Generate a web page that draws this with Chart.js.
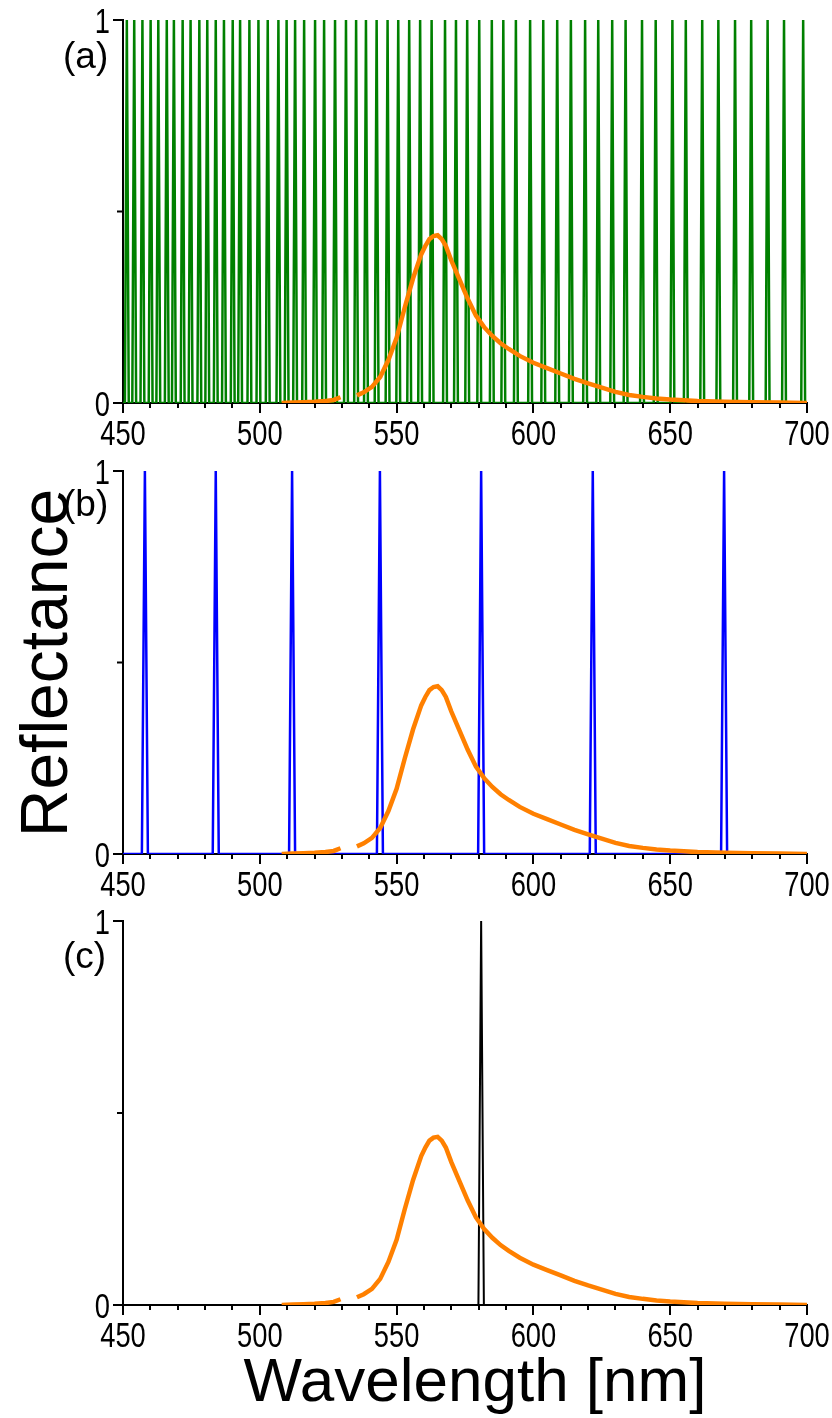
<!DOCTYPE html>
<html>
<head>
<meta charset="utf-8">
<script src="https://cdn.jsdelivr.net/npm/chart.js@4.4.1/dist/chart.umd.min.js"></script>
<style>
  html, body { margin: 0; padding: 0; background: #fff; }
  #wrap { position: relative; width: 832px; height: 1418px; overflow: hidden; }
  #wrap canvas { position: absolute; left: 0; }
  .txt { position: absolute; font-family: "Liberation Sans", Arial, sans-serif; color: #000; line-height: 1; white-space: nowrap; }
  .panel { font-size: 37px; left: 63px; }
</style>
</head>
<body>
<div id="wrap">
  <canvas id="panelA" width="832" height="450" style="top:0"></canvas>
  <canvas id="panelB" width="832" height="450" style="top:450px"></canvas>
  <canvas id="panelC" width="832" height="518" style="top:900px"></canvas>
  <div class="txt panel" style="top:37px">(a)</div>
  <div class="txt panel" style="top:485px">(b)</div>
  <div class="txt panel" style="top:937px">(c)</div>
  <div class="txt" style="left:44px;top:663px;font-size:66px;transform:translate(-50%,-50%) rotate(-90deg)">Reflectance</div>
  <div class="txt" style="left:475px;top:1380px;font-size:62px;transform:translate(-50%,-50%)">Wavelength [nm]</div>
</div>
<script>
// axis ticks
const xTicks = [450, 500, 550, 600, 650, 700];
const xMinorStep = 10;
const yTicks = [0, 1];
const yMinor = [0.5];

// emission spectrum (orange); null = no data between the two pieces
const emissionNm = [508, 512, 516, 520, 524, 527, 529.5, 532,
  535.5, 538, 541, 544, 547, 550, 553, 556, 559, 560.5, 562, 563.5, 565, 566.5, 568, 570,
  573, 576, 579, 582, 585, 588, 591, 595, 600, 605, 610, 615, 620, 625, 630, 635,
  640, 645, 650, 655, 660, 670, 680, 690, 700];
const emissionVal = [0.000, 0.001, 0.002, 0.003, 0.005, 0.008, 0.015, null,
  0.020, 0.028, 0.042, 0.068, 0.112, 0.170, 0.250, 0.325, 0.388, 0.410, 0.428, 0.436, 0.438, 0.428, 0.410, 0.372,
  0.322, 0.272, 0.228, 0.198, 0.175, 0.156, 0.141, 0.123, 0.105, 0.091, 0.077, 0.063, 0.051, 0.040, 0.029, 0.021,
  0.016, 0.012, 0.009, 0.007, 0.005, 0.003, 0.002, 0.001, 0.000];

// reflection peak centres in nm (peaks reach reflectance 1)
const peaksA = [451.4, 454.1, 457.1, 460.1, 462.9, 466.0, 468.6, 471.8, 474.7, 477.9,
  480.8, 483.9, 486.9, 490.1, 492.8, 496.2, 499.5, 502.9, 506.8, 509.8,
  512.9, 516.2, 520.2, 523.5, 527.5, 531.5, 535.2, 538.8, 542.7, 546.7,
  550.6, 554.6, 558.6, 562.8, 567.7, 571.7, 575.8, 580.2, 584.8, 589.0,
  593.6, 598.8, 603.6, 608.7, 613.7, 618.9, 623.7, 628.8, 633.7, 639.7,
  644.7, 650.8, 655.7, 661.7, 667.6, 673.7, 679.6, 685.6, 691.6, 698.6];
const peaksB = [458.0, 483.9, 511.8, 543.9, 580.9, 621.7, 669.7];
const peaksC = [580.9];
const peakTop = 1;

const TICK_FONT = "35px 'Liberation Sans', Arial, sans-serif";
const SQUEEZE = 0.78;   // tick numbers are set narrow

function emissionPoints() {
  return emissionNm.map((x, i) => ({ x: x, y: emissionVal[i] }));
}

function peakPoints(centres, half) {
  const pts = [{ x: xTicks[0], y: 0 }];
  centres.forEach(c => {
    pts.push({ x: c - half, y: 0 }, { x: c, y: peakTop }, { x: c + half, y: 0 });
  });
  pts.push({ x: xTicks[xTicks.length - 1], y: 0 });
  return pts;
}

function narrowText(ctx, text, x, y, align) {
  ctx.save();
  ctx.translate(x, y);
  ctx.scale(SQUEEZE, 1);
  ctx.textAlign = align;
  ctx.textBaseline = 'alphabetic';
  ctx.fillText(text, 0, 0);
  ctx.restore();
}

// outward tick marks (long at labelled values) and the tick numbers
const axisDecor = {
  id: 'axisDecor',
  afterDraw(chart, args, opts) {
    const { ctx, chartArea: a, scales: { x, y } } = chart;
    ctx.save();
    ctx.strokeStyle = '#000';
    ctx.lineWidth = 2;
    ctx.beginPath();
    for (let v = xTicks[0]; v <= xTicks[xTicks.length - 1]; v += xMinorStep) {
      const px = Math.round(x.getPixelForValue(v));
      const len = xTicks.includes(v) ? 10 : 5;
      ctx.moveTo(px, a.bottom);
      ctx.lineTo(px, a.bottom + len);
    }
    yTicks.forEach(v => {
      const py = y.getPixelForValue(v);
      ctx.moveTo(a.left, py);
      ctx.lineTo(a.left - 10, py);
    });
    yMinor.forEach(v => {
      const py = y.getPixelForValue(v);
      ctx.moveTo(a.left, py);
      ctx.lineTo(a.left - 6, py);
    });
    ctx.stroke();

    ctx.fillStyle = '#000';
    ctx.font = TICK_FONT;
    xTicks.forEach(v => narrowText(ctx, String(v), x.getPixelForValue(v), a.bottom + opts.labelDrop, 'center'));
    yTicks.forEach(v => narrowText(ctx, String(v), a.left - 13, y.getPixelForValue(v) + 12.5, 'right'));
    ctx.restore();
  }
};

function makePanel(id, peaks, color, width, half, box) {
  const canvas = document.getElementById(id);
  return new Chart(canvas, {
    type: 'scatter',
    data: {
      datasets: [
        {
          data: emissionPoints(),
          showLine: true,
          spanGaps: false,
          borderColor: '#ff8000',
          borderWidth: 4.5,
          pointRadius: 0,
        },
        {
          data: peakPoints(peaks, half),
          showLine: true,
          borderColor: color,
          borderWidth: width,
          pointRadius: 0,
        },
      ]
    },
    options: {
      responsive: false,
      animation: false,
      events: [],
      layout: {
        autoPadding: false,
        padding: { top: box.top, right: canvas.width - box.right, left: 0, bottom: 0 }
      },
      plugins: {
        legend: { display: false },
        tooltip: { enabled: false },
        axisDecor: { labelDrop: box.labelDrop },
      },
      scales: {
        x: {
          type: 'linear',
          min: xTicks[0],
          max: xTicks[xTicks.length - 1],
          grid: { display: false, drawTicks: false },
          border: { display: true, color: '#000', width: 2 },
          ticks: { display: false },
          afterFit: s => {
            s.height = canvas.height - box.bottom;
            s.paddingLeft = s.paddingRight = 0;
          },
        },
        y: {
          type: 'linear',
          min: 0,
          max: 1,
          grid: { display: false, drawTicks: false },
          border: { display: true, color: '#000', width: 2 },
          ticks: { display: false },
          afterFit: s => {
            s.width = box.left;
            s.paddingTop = s.paddingBottom = 0;
          },
        },
      },
    },
    plugins: [axisDecor],
  });
}

makePanel('panelA', peaksA, '#008000', 2.5, 0.7, { left: 123, right: 807, top: 20, bottom: 403, labelDrop: 42 });
makePanel('panelB', peaksB, '#0000ff', 2.5, 1.1, { left: 123, right: 807, top: 21, bottom: 404, labelDrop: 42 });
makePanel('panelC', peaksC, '#000000', 2, 1.0, { left: 123, right: 807, top: 21, bottom: 405, labelDrop: 42 });
</script>
</body>
</html>
